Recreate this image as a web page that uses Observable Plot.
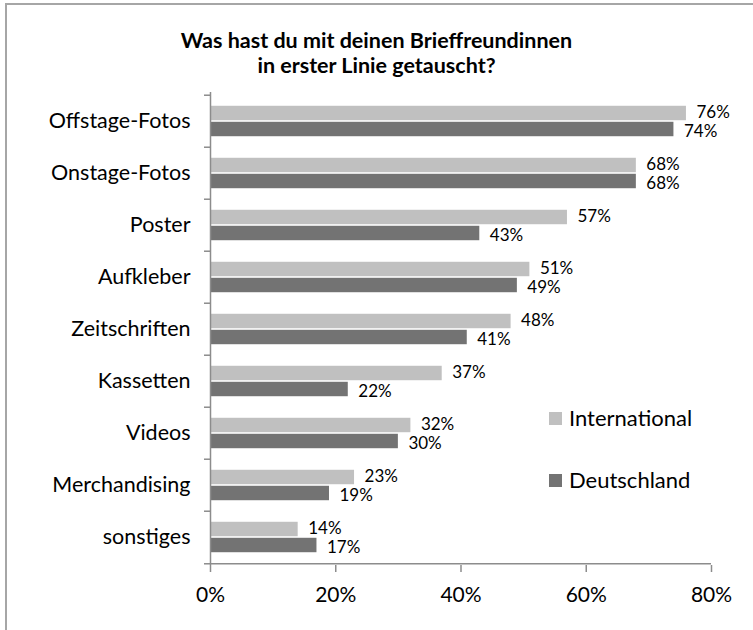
<!DOCTYPE html>
<html><head><meta charset="utf-8">
<script src="https://cdn.jsdelivr.net/npm/d3@7"></script>
<script src="https://cdn.jsdelivr.net/npm/@observablehq/plot@0.6"></script>
<style>
body{margin:0;background:#fff;font-family:Lato,sans-serif;}
#wrap{position:relative;width:753px;height:630px;overflow:hidden;background:#fff;}
#chart{position:absolute;left:0;top:0;}
#frame{position:absolute;left:5px;top:3px;width:900px;height:900px;border-left:2px solid #a6a6a6;border-top:2px solid #a6a6a6;pointer-events:none;}
#title{position:absolute;left:0;top:28px;width:753px;text-align:center;font-weight:bold;font-size:21.5px;line-height:25px;color:#000;}
.leg{position:absolute;left:549px;font-size:22px;line-height:22px;color:#000;display:flex;align-items:center;}
.sw{width:13px;height:13px;margin-right:7px;display:inline-block;}
</style></head>
<body><div id="wrap">
<div id="chart"></div>
<div id="title">Was hast du mit deinen Brieffreundinnen<br>in erster Linie getauscht?</div>
<div id="legend"></div>
<div id="frame"></div>
</div>
<script>
const categories = ["Offstage-Fotos","Onstage-Fotos","Poster","Aufkleber","Zeitschriften","Kassetten","Videos","Merchandising","sonstiges"];
const international = [76,68,57,51,48,37,32,23,14];
const deutschland = [74,68,43,49,41,22,30,19,17];
const series = ["International","Deutschland"];
const colors = ["#c0c0c0","#737373"];
const xTicks = [0,20,40,60,80];

const W = 753, H = 630, mT = 92, mB = 65, mL = 210, mR = 42;
const step = (H - mT - mB) / categories.length;
const barH = 15, gap = 1;
const outer = (step - 2 * barH - gap) / 2;

const rowsI = categories.map((c, i) => ({category: c, series: series[0], value: international[i]}));
const rowsD = categories.map((c, i) => ({category: c, series: series[1], value: deutschland[i]}));

const axisGray = "#8c8c8c";
const pct = d => d + "%";
const plot = Plot.plot({
  width: W, height: H,
  marginTop: mT, marginBottom: mB, marginLeft: mL, marginRight: mR,
  style: {fontFamily: "Lato, sans-serif", fontSize: "20px", color: "#000", background: "transparent", overflow: "visible"},
  x: {domain: [0, 80], label: null},
  y: {domain: categories, padding: 0, label: null},
  marks: [
    Plot.barX(rowsI, {x: "value", y: "category", fill: colors[0], insetTop: outer, insetBottom: step - outer - barH}),
    Plot.barX(rowsD, {x: "value", y: "category", fill: colors[1], insetTop: outer + barH + gap, insetBottom: outer}),
    Plot.text(rowsI, {x: "value", y: "category", text: d => pct(d.value), dx: 10, dy: -(barH + gap) / 2 - 1, textAnchor: "start", fontSize: 17, fill: "#000"}),
    Plot.text(rowsD, {x: "value", y: "category", text: d => pct(d.value), dx: 10, dy: (barH + gap) / 2 + 2, textAnchor: "start", fontSize: 17, fill: "#000"}),
    Plot.ruleX([0], {stroke: axisGray, strokeWidth: 1.5}),
    Plot.ruleY([categories[categories.length - 1]], {dy: step / 2, stroke: axisGray, strokeWidth: 1.5}),
    Plot.axisY({tickSize: 6, text: null, label: null, dy: -step / 2, stroke: axisGray, strokeWidth: 1.5}),
    Plot.axisY({ticks: [categories[categories.length - 1]], tickSize: 6, text: null, label: null, dy: step / 2, stroke: axisGray, strokeWidth: 1.5}),
    Plot.axisY({tickSize: 0, tickPadding: 20, fontSize: 21.5, fill: "#000", label: null}),
    Plot.axisX({ticks: xTicks, tickSize: 7, text: null, label: null, stroke: axisGray, strokeWidth: 1.5}),
    Plot.axisX({ticks: xTicks, tickFormat: pct, tickSize: 0, tickPadding: 22, fontSize: 21, fill: "#000", label: null})
  ]
});
document.getElementById("chart").appendChild(plot);

const legendTops = [407, 469];
const leg = document.getElementById("legend");
series.forEach((s, i) => {
  const d = document.createElement("div");
  d.className = "leg";
  d.style.top = legendTops[i] + "px";
  d.innerHTML = `<span class="sw" style="background:${colors[i]}"></span><span>${s}</span>`;
  leg.appendChild(d);
});
</script>
</body></html>
